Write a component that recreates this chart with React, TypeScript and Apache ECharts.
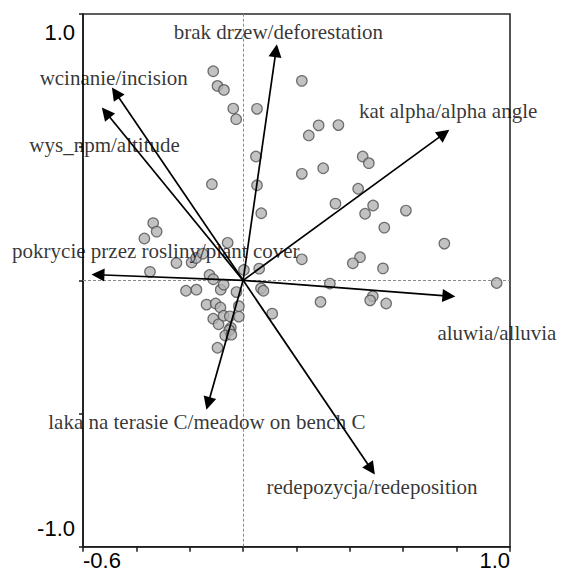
import React, { useEffect, useRef } from "react";
import * as echarts from "echarts";

// Sample scores (x = axis 1, y = axis 2)
const sampleX = [
  -0.112, -0.096, -0.072, -0.037, -0.026, 0.052, 0.22, 0.283, 0.357, 0.246,
  0.048, -0.117, 0.052, 0.22, 0.3, 0.346, 0.068, 0.448, 0.471, 0.431,
  0.487, 0.457, 0.61, 0.529, 0.754, 0.22, 0.438, 0.411, 0.524, 0.325,
  0.95, 0.29, 0.486, 0.476, 0.536, -0.337, -0.324, -0.37, -0.058, -0.25,
  -0.193, -0.176, -0.151, -0.349, -0.126, -0.112, 0.003, 0.06, -0.214, -0.175,
  -0.084, -0.073, -0.025, 0.067, 0.076, -0.137, -0.103, -0.085, -0.016, -0.112,
  -0.092, -0.073, -0.05, -0.016, -0.046, -0.052, -0.067, -0.044, -0.096, 0.109,
];
const sampleY = [
  0.785, 0.73, 0.715, 0.645, 0.605, 0.644, 0.749, 0.582, 0.583, 0.544,
  0.465, 0.361, 0.357, 0.4, 0.421, 0.288, 0.252, 0.465, 0.44, 0.344,
  0.281, 0.25, 0.262, 0.198, 0.138, 0.079, 0.087, 0.064, 0.045, -0.012,
  -0.01, -0.081, -0.06, -0.075, -0.087, 0.215, 0.183, 0.157, 0.141, 0.065,
  0.067, 0.084, 0.1, 0.032, 0.02, 0.004, 0.039, 0.044, -0.039, -0.035,
  -0.035, -0.016, -0.044, -0.03, -0.039, -0.091, -0.087, -0.102, -0.097, -0.144,
  -0.165, -0.133, -0.135, -0.136, -0.178, -0.187, -0.207, -0.204, -0.253, -0.125,
];

// Environmental variables (arrow end points)
const varNames = [
  "brak drzew/deforestation",
  "wcinanie/incision",
  "wys_npm/altitude",
  "pokrycie przez rosliny/plant cover",
  "kat alpha/alpha angle",
  "aluwia/alluvia",
  "redepozycja/redeposition",
  "laka na terasie C/meadow on bench C",
];
const varX = [0.123, -0.478, -0.514, -0.544, 0.753, 0.771, 0.48, -0.131];
const varY = [0.862, 0.704, 0.63, 0.021, 0.551, -0.059, -0.709, -0.462];
// Label anchor points (data coordinates)
const labelX = [0.132, -0.485, -0.519, -0.327, 0.768, 0.951, 0.483, -0.136];
const labelY = [0.934, 0.761, 0.51, 0.112, 0.637, -0.199, -0.776, -0.532];

// Axis ranges / ticks
const xMin = -0.6;
const xMax = 1.0;
const xStep = 0.2;
const yMin = -1.0;
const yMax = 1.0;
const yStep = 0.5;

export default function App() {
  const ref = useRef<HTMLDivElement>(null);

  useEffect(() => {
    if (!ref.current) return;
    const chart = echarts.init(ref.current, null, { renderer: "svg" });

    const samples = sampleX.map((x, i) => [x, sampleY[i]]);
    const arrows = varX.map((x, i) => ({ coords: [[0, 0], [x, varY[i]]] }));
    const labels = varNames.map((n, i) => ({ name: n, value: [labelX[i], labelY[i]] }));

    const endLabel = (v: number, lo: number, hi: number) =>
      Math.abs(v - lo) < 1e-6 || Math.abs(v - hi) < 1e-6 ? v.toFixed(1) : "";

    chart.setOption({
      animation: false,
      grid: {
        left: 83,
        right: 51,
        top: 14,
        bottom: 29.3,
        show: true,
        borderColor: "#2a2a2a",
        borderWidth: 1.6,
        backgroundColor: "transparent",
      },
      xAxis: {
        type: "value",
        min: xMin,
        max: xMax,
        interval: xStep,
        axisLine: { show: true, onZero: false, lineStyle: { color: "#1a1a1a", width: 1.6 } },
        axisTick: { show: true, length: 5, lineStyle: { color: "#1a1a1a", width: 1.5 } },
        splitLine: { show: false },
        axisLabel: {
          formatter: (v: number) => endLabel(v, xMin, xMax),
          fontFamily: "'Liberation Sans', Arial, sans-serif",
          fontSize: 22,
          color: "#000",
          margin: 3,
          showMinLabel: true,
          showMaxLabel: true,
          alignMinLabel: "left",
          alignMaxLabel: "right",
        },
      },
      yAxis: {
        type: "value",
        min: yMin,
        max: yMax,
        interval: yStep,
        axisLine: { show: true, onZero: false, lineStyle: { color: "#1a1a1a", width: 1.6 } },
        axisTick: { show: true, length: 4, lineStyle: { color: "#1a1a1a", width: 1.5 } },
        splitLine: { show: false },
        axisLabel: {
          formatter: (v: number) => endLabel(v, yMin, yMax),
          fontFamily: "'Liberation Sans', Arial, sans-serif",
          fontSize: 22,
          color: "#000",
          margin: 8,
          lineHeight: 36,
          showMinLabel: true,
          showMaxLabel: true,
          verticalAlignMinLabel: "bottom",
          verticalAlignMaxLabel: "top",
        },
      },
      series: [
        {
          type: "scatter",
          data: samples,
          symbol: "circle",
          symbolSize: 10.5,
          z: 2,
          itemStyle: { color: "#b3b3b3", borderColor: "#4f4f4f", borderWidth: 1.2 },
          markLine: {
            silent: true,
            symbol: "none",
            label: { show: false },
            lineStyle: { color: "#8a8a8a", type: [3, 2], width: 1 },
            data: [{ xAxis: 0 }, { yAxis: 0 }],
            z: 1,
          },
        },
        {
          type: "lines",
          coordinateSystem: "cartesian2d",
          data: arrows,
          symbol: ["none", "triangle"],
          symbolSize: [9, 13],
          z: 3,
          lineStyle: { color: "#000", width: 1.7, opacity: 1 },
        },
        {
          type: "scatter",
          data: labels,
          symbolSize: 0,
          silent: true,
          z: 4,
          label: {
            show: true,
            position: "inside",
            formatter: "{b}",
            fontFamily: "'Liberation Serif', 'Times New Roman', serif",
            fontSize: 21,
            color: "#000",
            textBorderWidth: 0,
            textBorderColor: "transparent",
          },
        },
      ],
    });

    return () => chart.dispose();
  }, []);

  return (
    <div
      ref={ref}
      style={{ position: "absolute", left: 0, top: 0, width: 561, height: 576, background: "#fff" }}
    />
  );
}
